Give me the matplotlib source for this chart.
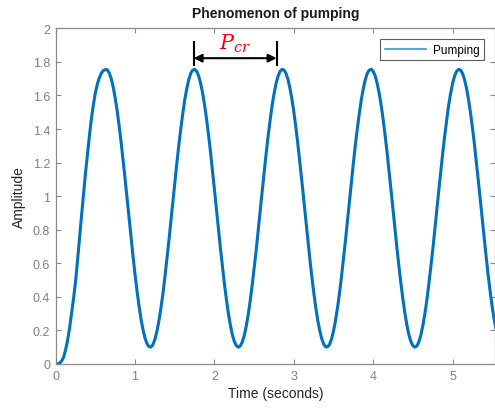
import numpy as np
import matplotlib
matplotlib.use("Agg")
import matplotlib.pyplot as plt

# ---- data ----
time_step = 0.025
amplitude = [
    0.000, 0.001, 0.005, 0.018, 0.040, 0.085, 0.140, 0.215, 0.300, 0.390,
    0.490, 0.615, 0.750, 0.880, 1.010, 1.135, 1.250, 1.360, 1.460, 1.545,
    1.615, 1.668, 1.705, 1.733, 1.748, 1.754, 1.753, 1.734, 1.699, 1.649,
    1.584, 1.507, 1.417, 1.319, 1.212, 1.100, 0.984, 0.867, 0.752, 0.639,
    0.533, 0.434, 0.346, 0.268, 0.205, 0.155, 0.121, 0.103, 0.101, 0.115,
    0.147, 0.194, 0.255, 0.331, 0.415, 0.514, 0.620, 0.728, 0.844, 0.960,
    1.077, 1.190, 1.298, 1.397, 1.488, 1.571, 1.637, 1.691, 1.730, 1.750,
    1.756, 1.745, 1.718, 1.675, 1.617, 1.546, 1.462, 1.368, 1.265, 1.155,
    1.040, 0.924, 0.807, 0.693, 0.584, 0.481, 0.388, 0.304, 0.234, 0.176,
    0.135, 0.110, 0.100, 0.107, 0.130, 0.168, 0.224, 0.292, 0.374, 0.467,
    0.568, 0.673, 0.787, 0.904, 1.021, 1.136, 1.247, 1.351, 1.446, 1.535,
    1.607, 1.668, 1.713, 1.742, 1.755, 1.752, 1.733, 1.698, 1.647, 1.582,
    1.504, 1.414, 1.315, 1.208, 1.096, 0.980, 0.863, 0.748, 0.636, 0.529,
    0.431, 0.343, 0.266, 0.203, 0.154, 0.120, 0.102, 0.102, 0.116, 0.148,
    0.196, 0.257, 0.334, 0.418, 0.517, 0.624, 0.732, 0.848, 0.964, 1.081,
    1.194, 1.302, 1.401, 1.491, 1.573, 1.639, 1.693, 1.731, 1.751, 1.756,
    1.744, 1.717, 1.673, 1.615, 1.543, 1.459, 1.365, 1.261, 1.151, 1.036,
    0.920, 0.803, 0.689, 0.580, 0.478, 0.385, 0.302, 0.232, 0.174, 0.134,
    0.109, 0.100, 0.107, 0.131, 0.170, 0.226, 0.295, 0.376, 0.470, 0.572,
    0.677, 0.791, 0.908, 1.025, 1.140, 1.251, 1.354, 1.449, 1.538, 1.610,
    1.670, 1.715, 1.743, 1.755, 1.752, 1.732, 1.696, 1.645, 1.580, 1.501,
    1.411, 1.312, 1.204, 1.092, 0.976, 0.859, 0.744, 0.632, 0.526, 0.428,
    0.340, 0.264, 0.202,
]
time = np.round(np.arange(len(amplitude)) * time_step, 3)

x_ticks = [0, 1, 2, 3, 4, 5]
y_ticks = [0, 0.2, 0.4, 0.6, 0.8, 1.0, 1.2, 1.4, 1.6, 1.8, 2.0]
y_tick_labels = ["0", "0.2", "0.4", "0.6", "0.8", "1", "1.2", "1.4", "1.6", "1.8", "2"]

pcr_start, pcr_end = 1.738, 2.783
pcr_bar_low, pcr_bar_high, pcr_arrow_y = 1.782, 1.919, 1.822

# ---- figure ----
plt.rcParams['font.family'] = ['Liberation Sans', 'DejaVu Sans']
plt.rcParams['mathtext.fontset'] = 'dejavuserif'

fig = plt.figure(figsize=(4.95, 4.14), dpi=100)
ax = fig.add_axes([0.1125, 0.1184, 0.8875, 0.8108])

line_color = '#0072BD'
ax.plot(time, amplitude, color=line_color, lw=2.2, label='Pumping',
        solid_joinstyle='round', solid_capstyle='round')

ax.set_xlim(0, 5.535)
ax.set_ylim(0, 2)
ax.set_xticks(x_ticks)
ax.set_yticks(y_ticks)
ax.set_yticklabels(y_tick_labels)

for s in ax.spines.values():
    s.set_color('#8a8a8a')
    s.set_linewidth(0.9)
ax.tick_params(direction='in', length=3.5, width=0.8, colors='#8a8a8a',
               labelcolor='#808080', labelsize=9, top=True, right=True, pad=4)

ax.set_title('Phenomenon of pumping', fontsize=10, fontweight='bold', color='#1a1a1a', pad=8)
ax.set_xlabel('Time (seconds)', fontsize=10, color='#262626', labelpad=3)
ax.set_ylabel('Amplitude', fontsize=10, color='#262626', labelpad=5)

leg = ax.legend(loc='upper right', fontsize=8.5, frameon=True, fancybox=False,
                handlelength=3.5, borderpad=0.4, borderaxespad=0.9, handletextpad=0.6)
leg.get_frame().set_edgecolor('#333333')
leg.get_frame().set_linewidth(0.8)
for h in leg.get_lines():
    h.set_color('#5AA5DD')
    h.set_linewidth(1.5)

# ---- P_cr annotation ----
ax.plot([pcr_start, pcr_start], [pcr_bar_low, pcr_bar_high], color='black', lw=1.5)
ax.plot([pcr_end, pcr_end], [pcr_bar_low, pcr_bar_high], color='black', lw=1.5)
ax.annotate('', xy=(pcr_start, pcr_arrow_y), xytext=(pcr_end, pcr_arrow_y),
            arrowprops=dict(arrowstyle='<|-|>', color='black', lw=1.5,
                            mutation_scale=12, shrinkA=0, shrinkB=0))
ax.text((pcr_start + pcr_end) / 2, 1.845, r'$P_{cr}$', color='red', fontsize=15,
        ha='center', va='bottom')

fig.savefig('out.png', dpi=100)
